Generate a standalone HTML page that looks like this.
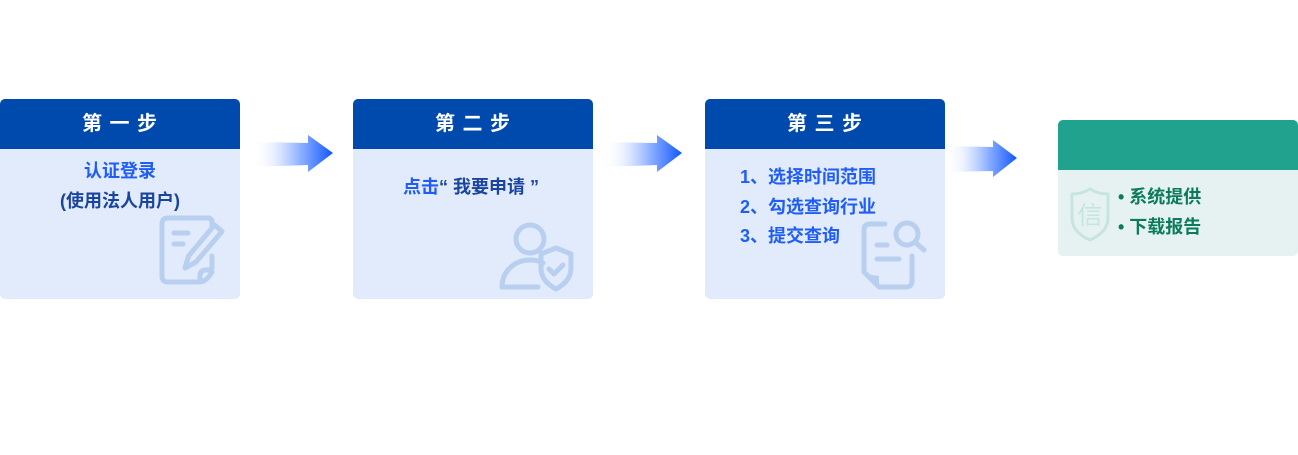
<!DOCTYPE html>
<html>
<head>
<meta charset="utf-8">
<style>
  html,body{margin:0;padding:0;background:#fff;}
  body{width:1298px;height:455px;position:relative;overflow:hidden;
    font-family:"Liberation Sans","Noto Sans CJK SC",sans-serif;font-weight:bold;}
  .card{position:absolute;top:99px;width:240px;height:200px;background:#e1ebfc;border-radius:5px;overflow:hidden;}
  .hd{position:absolute;left:0;top:0;width:100%;height:50px;background:#004aad;color:#fff;
    font-size:20px;line-height:50px;text-align:center;letter-spacing:1px;}
  .t{position:absolute;white-space:nowrap;font-size:18px;line-height:20px;}
  .bb{color:#1f5df6;}
  .db{color:#1a459f;}
  .g{color:#0b7a5d;}
  svg{position:absolute;left:0;top:0;}
</style>
</head>
<body>

<div class="card" style="left:0;">
  <div class="hd">第 一 步</div>
  <div class="t bb" style="left:0;width:240px;text-align:center;top:62px;">认证登录</div>
  <div class="t db" style="left:0;width:240px;text-align:center;top:92px;">(使用法人用户)</div>
</div>

<div class="card" style="left:353px;">
  <div class="hd">第 二 步</div>
  <div class="t" style="left:50px;top:78px;"><span class="bb">点击</span><span class="db">“ 我要申请 ”</span></div>
</div>

<div class="card" style="left:705px;">
  <div class="hd">第 三 步</div>
  <div class="t bb" style="left:35px;top:68px;">1、选择时间范围</div>
  <div class="t bb" style="left:35px;top:98px;">2、勾选查询行业</div>
  <div class="t bb" style="left:35px;top:127px;">3、提交查询</div>
</div>

<div style="position:absolute;left:1058px;top:120px;width:240px;height:136px;background:#e5f2f1;border-radius:5px;overflow:hidden;">
  <div style="position:absolute;left:0;top:0;width:100%;height:50px;background:#21a28f;"></div>
  <div class="t g" style="left:60px;top:67px;">• 系统提供</div>
  <div class="t g" style="left:60px;top:97px;">• 下载报告</div>
</div>

<svg width="1298" height="455" viewBox="0 0 1298 455">
  <defs>
    <linearGradient id="ag" x1="0" y1="0" x2="1" y2="0">
      <stop offset="0" stop-color="#ffffff" stop-opacity="0"/>
      <stop offset="0.25" stop-color="#dfe9ff" stop-opacity="0.6"/>
      <stop offset="0.6" stop-color="#7fa6ff" stop-opacity="0.9"/>
      <stop offset="1" stop-color="#0f55ff" stop-opacity="1"/>
    </linearGradient>
  </defs>
  <!-- arrows -->
  <polygon points="252,142 308,143 308,135 333,153 308,172 308,165 252,167" fill="url(#ag)"/>
  <polygon points="603,142 657,143 657,135 682,153 657,172 657,165 603,167" fill="url(#ag)"/>
  <polygon points="945,146 993,147 993,140 1017,158 993,177 993,171 945,172" fill="url(#ag)"/>

  <!-- icon 1: doc with pencil -->
  <g fill="none" stroke="#b9cff0" stroke-width="5" stroke-linecap="round" stroke-linejoin="round">
    <path d="M208 218 H168 Q162 218 162 224 V276 Q162 282 168 282 H198"/>
    <path d="M208 218 Q212 218 212 222 V226"/>
    <path d="M212 256 V268 Q212 270 206 270 Q200 270 200 276 V282 Q206 282 212 272"/>
    <line x1="174" y1="233" x2="188" y2="233"/>
    <line x1="174" y1="244" x2="183" y2="244"/>
    <path d="M214.5 225 L222 231.5 L196 262 L185 268 L188.5 256 Z"/>
  </g>

  <!-- icon 2: user with shield -->
  <g fill="none" stroke="#b9cff0" stroke-width="5" stroke-linecap="round" stroke-linejoin="round">
    <circle cx="530" cy="239" r="14"/>
    <path d="M502 287 C502 271 515 260 530 260 C536 260 540 261 543 263"/>
    <line x1="502" y1="287" x2="538" y2="287"/>
    <path d="M556 248 L571 254 V268 Q571 281 556 289 Q541 281 541 268 V254 Z"/>
    <path d="M549 269 L554 274 L563 265"/>
  </g>

  <!-- icon 3: doc with magnifier -->
  <g fill="none" stroke="#b9cff0" stroke-width="5" stroke-linecap="round" stroke-linejoin="round">
    <circle cx="907" cy="234" r="11"/>
    <line x1="916" y1="243" x2="924" y2="250"/>
    <path d="M885 224 H870 Q864 224 864 230 V272 L879 287 H906 Q912 287 912 281 V256"/>
    <line x1="877" y1="245" x2="887" y2="245"/>
    <line x1="877" y1="259" x2="899" y2="259"/>
  </g>
  <polygon points="866,274 879,286 879,276" fill="#b9cff0"/>

  <!-- icon 4: shield with 信 -->
  <path d="M1090 189 Q1098 194 1108 194 V218 Q1108 232 1090 240 Q1072 232 1072 218 V194 Q1082 194 1090 189 Z"
        fill="none" stroke="#c6e5df" stroke-width="3" stroke-linejoin="round"/>
  <text x="1090" y="224" text-anchor="middle" font-size="25" fill="#c6e5df"
        font-family="Liberation Sans, Noto Sans CJK SC, sans-serif" font-weight="normal">信</text>
</svg>

</body>
</html>
